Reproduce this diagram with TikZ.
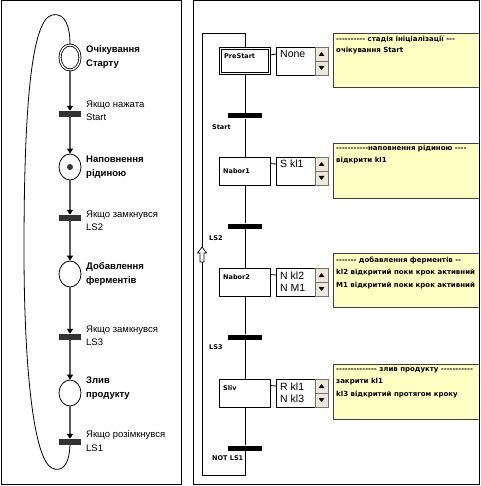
\documentclass[tikz,border=0pt]{standalone}
\usepackage{fontspec}
\setmainfont{Liberation Sans}
\newfontfamily\dvs{DejaVu Sans}
\usetikzlibrary{shapes.geometric,arrows.meta}
\ExplSyntaxOn
\cs_new:Npn \myhy #1 { \prg_replicate:nn {#1} {-\kern0pt\relax} }
\ExplSyntaxOff
\definecolor{memo}{HTML}{FFFFC4}
\definecolor{btnfill}{HTML}{ECE9D8}
\definecolor{arcgray}{HTML}{585858}
\newcommand\scrollbar[1]{%
  \draw[btnbox] (315,#1) rectangle (328,{#1+14});
  \draw[btnbox] (315,{#1+14}) rectangle (328,{#1+28});
  \fill (318.5,{#1+9}) -- (324.5,{#1+9}) -- (321.5,{#1+5}) -- cycle;
  \fill (318.5,{#1+19}) -- (324.5,{#1+19}) -- (321.5,{#1+23}) -- cycle;
}
\begin{document}
\begin{tikzpicture}[x=1pt,y=-1pt,
  place/.style={draw=black, line width=0.8pt, ellipse, minimum width=22pt, minimum height=26pt, inner sep=0pt, fill=white},
  ptrans/.style={draw=none, fill=black!80, minimum width=22pt, minimum height=6pt, inner sep=0pt},
  plabel/.style={anchor=west, align=left, font=\fontsize{9.5}{14}\selectfont\bfseries, inner sep=0pt},
  tlabel/.style={anchor=west, align=left, font=\fontsize{9.5}{13.5}\selectfont, inner sep=0pt},
  parc/.style={draw=arcgray, line width=1.3pt, -{Triangle[width=6pt,length=5pt,color=black]}},
  frame/.style={draw=black, line width=1pt},
  stepbox/.style={draw=black, line width=0.8pt, minimum width=51pt, minimum height=28pt, inner sep=0pt, fill=white},
  actbox/.style={draw=black, line width=0.8pt, minimum width=52pt, minimum height=28pt, inner sep=0pt, fill=white},
  memobox/.style={draw=black!75, line width=0.8pt, fill=memo, inner sep=0pt},
  btnbox/.style={draw=black!55, line width=0.5pt, fill=btnfill},
  sbar/.style={fill=black, minimum width=34pt, minimum height=5pt, inner sep=0pt},
  small/.style={font=\dvs\bfseries\fontsize{6.5}{8}\selectfont, inner sep=0pt, anchor=west},
  memotext/.style={font=\dvs\bfseries\fontsize{7}{8}\selectfont, inner sep=0pt, anchor=west},
  acttext/.style={font=\fontsize{10.5}{12}\selectfont, inner sep=0pt, anchor=west},
  sfc/.style={draw=black, line width=0.8pt}
]
\useasboundingbox (0,0) rectangle (480,486);
% frames
\draw[frame] (1,1) rectangle (181,484);
\draw[frame] (193,1) rectangle (479,484);

% ---------------- left: Petri net ----------------
\node[place, minimum width=20pt, minimum height=25pt, double, double distance=1.3pt] (p1) at (70,57.5) {};
\node[ptrans] (t1) at (70,114) {};
\node[place] (p2) at (70,167) {};
\fill[black!80] (p2.center) circle (3);
\node[ptrans] (t2) at (70,218) {};
\node[place] (p3) at (70,274) {};
\node[ptrans] (t3) at (70,337) {};
\node[place] (p4) at (70,393) {};
\node[ptrans] (t4) at (70,442) {};

\draw[parc] (p1.south) -- (t1.north);
\draw[parc] (t1.south) -- (p2.north);
\draw[parc] (p2.south) -- (t2.north);
\draw[parc] (t2.south) -- (p3.north);
\draw[parc] (p3.south) -- (t3.north);
\draw[parc] (t3.south) -- (p4.north);
\draw[parc] (p4.south) -- (t4.north);
\draw[black, line width=0.8pt] (t4.south) .. controls (69,468) and (60,472) .. (52,468)
  .. controls (34,460) and (24,370) .. (24,250)
  .. controls (24,120) and (30,20) .. (52,15)
  .. controls (66,12) and (70,28) .. (p1.north);

\node[plabel] (lp1) at (86,57) {Очікування\\Старту};
\node[tlabel] (lt1) at (86,111) {Якщо нажата\\Start};
\node[plabel] (lp2) at (86,167) {Наповнення\\рідиною};
\node[tlabel] (lt2) at (86,221) {Якщо замкнувся\\LS2};
\node[plabel] (lp3) at (86,274) {Добавлення\\ферментів};
\node[tlabel] (lt3) at (86,336) {Якщо замкнувся\\LS3};
\node[plabel] (lp4) at (86,388) {Злив\\продукту};
\node[tlabel] (lt4) at (86,441) {Якщо розімкнувся\\LS1};

% ---------------- right: SFC ----------------
\begin{scope}
\clip (193.5,1.5) rectangle (478.5,483.5);
\node[memobox, anchor=north west, minimum width=150pt, minimum height=54pt] (c1) at (333,33) {};
\node[memobox, anchor=north west, minimum width=150pt, minimum height=55pt] (c2) at (333,143) {};
\node[memobox, anchor=north west, minimum width=150pt, minimum height=54pt] (c3) at (333,253) {};
\node[memobox, anchor=north west, minimum width=150pt, minimum height=55pt] (c4) at (333,364) {};
\end{scope}
\node[memotext] (c1a) at (336,39) {\myhy{10} стадія ініціалізації \myhy{3}};
\node[memotext] (c1b) at (336,51) {очікування Start};
\node[memotext] (c2a) at (336,149) {\myhy{11}наповнення рідиною \myhy{4}};
\node[memotext] (c2b) at (336,161) {відкрити kl1};
\node[memotext] (c3a) at (336,260) {\myhy{7} добавлення ферментів \myhy{2}};
\node[memotext] (c3b) at (336,273) {kl2 відкритий поки крок активний};
\node[memotext] (c3c) at (336,286) {M1 відкритий поки крок активний};
\node[memotext] (c4a) at (336,370) {\myhy{14} злив продукту \myhy{11}};
\node[memotext] (c4b) at (336,382) {закрити kl1};
\node[memotext] (c4c) at (336,395) {kl3 відкритий протягом кроку};
\draw[frame] (479,1) -- (479,484);

% steps
\node[stepbox, double, double distance=1.3pt, minimum width=49pt, minimum height=25pt] (s0) at (245,61) {};
\node[stepbox] (s1) at (245,171) {};
\node[stepbox] (s2) at (245,282) {};
\node[stepbox] (s3) at (245,393) {};
\node[small] at (224,56) {PreStart};
\node[small] at (223,171) {Nabor1};
\node[small] at (223,277) {Nabor2};
\node[small] at (223,388) {Sliv};

% action boxes
\node[actbox, anchor=north west] (a0) at (276,47) {};
\node[actbox, anchor=north west] (a1) at (276,157) {};
\node[actbox, anchor=north west] (a2) at (276,268) {};
\node[actbox, anchor=north west] (a3) at (276,379) {};
\node[acttext] at (280,54) {None};
\node[acttext] at (280,164) {S kl1};
\node[acttext] at (280,275.5) {N kl2};
\node[acttext] at (280,287.5) {N M1};
\node[acttext] at (280,386.5) {R kl1};
\node[acttext] at (280,398.5) {N kl3};
\scrollbar{47}
\scrollbar{157}
\scrollbar{268}
\scrollbar{379}
\draw[sfc] ([yshift=-7pt]s0.north east) -- ([yshift=-7pt]a0.north west);
\draw[sfc] ([yshift=-7pt]s1.north east) -- ([yshift=-7pt]a1.north west);
\draw[sfc] ([yshift=-7pt]s2.north east) -- ([yshift=-7pt]a2.north west);
\draw[sfc] ([yshift=-7pt]s3.north east) -- ([yshift=-7pt]a3.north west);

% transitions
\node[sbar] (ts) at (245,116) {};
\node[sbar] (t2r) at (245,226) {};
\node[sbar] (t3r) at (245,337) {};
\node[sbar] (tn) at (245,448) {};
\node[small] at (212,127) {Start};
\node[small] at (209,238) {LS2};
\node[small] at (209,347) {LS3};
\node[small] at (212,458) {NOT LS1};

% links
\coordinate (rb) at (245,475);
\coordinate (rlb) at (202,475);
\coordinate (rlt) at (202,33);
\coordinate (rt) at (245,33);
\draw[sfc] (s0) -- (ts);
\draw[sfc] (ts) -- (s1);
\draw[sfc] (s1) -- (t2r);
\draw[sfc] (t2r) -- (s2);
\draw[sfc] (s2) -- (t3r);
\draw[sfc] (t3r) -- (s3);
\draw[sfc] (s3) -- (tn);
\draw[sfc] (tn) -- (rb) -- (rlb) -- (rlt) -- (rt) -- (s0.north);
% hollow up arrow on return line
\draw[fill=white, line width=0.7pt] (202,247) -- (206.5,253) -- (204,253) -- (204,262) -- (200,262) -- (200,253) -- (197.5,253) -- cycle;
\end{tikzpicture}
\end{document}
